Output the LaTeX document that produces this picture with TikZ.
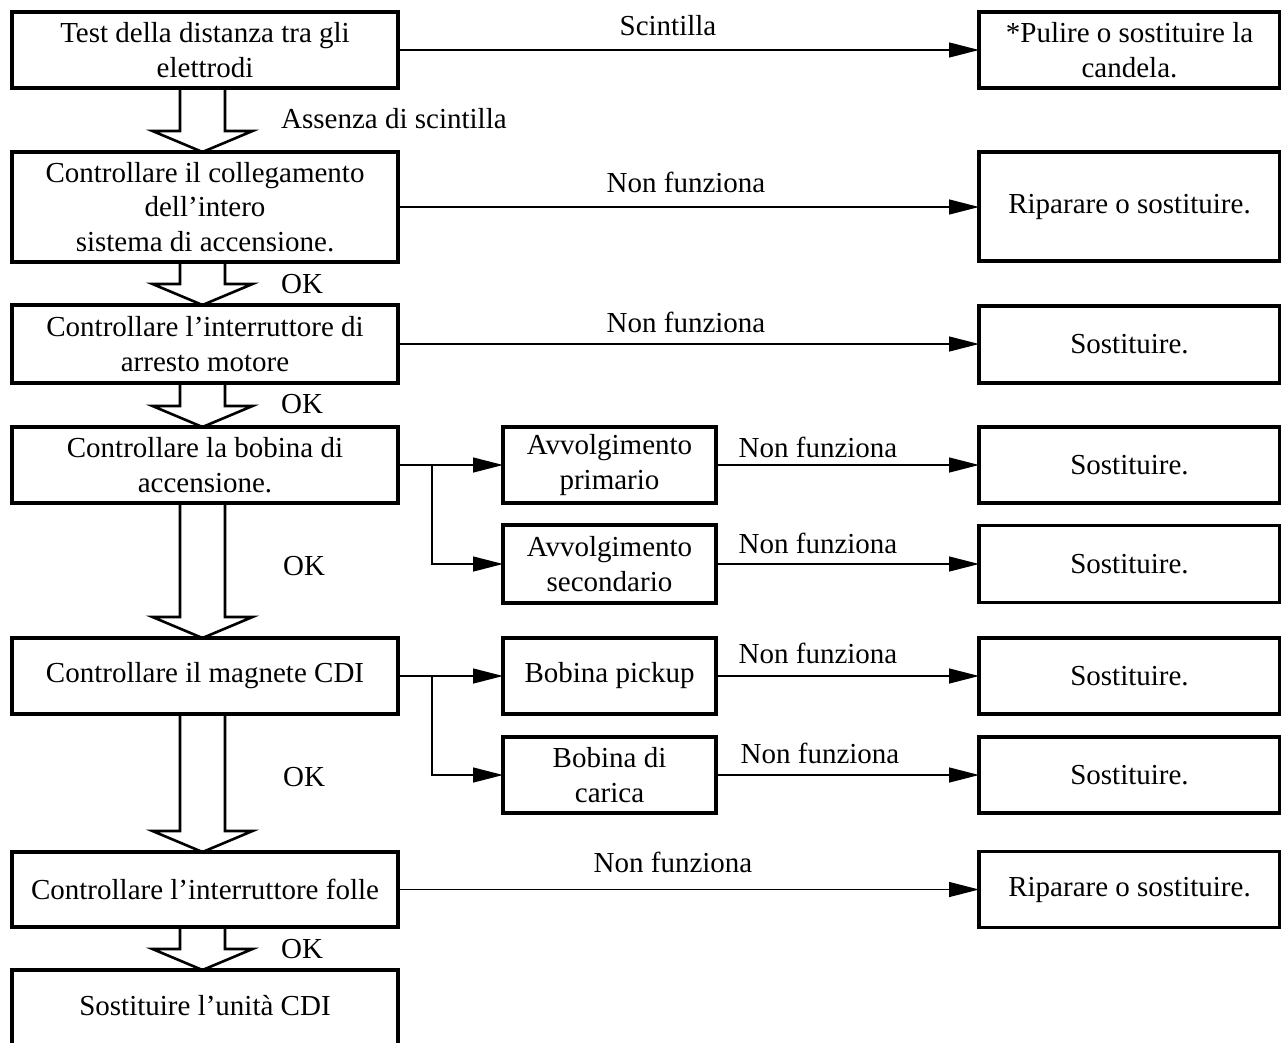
\documentclass[tikz,border=0pt]{standalone}
\usepackage{fontspec}
\setmainfont{Liberation Serif}
\usetikzlibrary{arrows.meta,calc}
\tikzset{
  txt/.style={font=\fontsize{29pt}{34.5pt}\selectfont},
  box/.style={txt, draw, line width=3.5pt, align=center, inner sep=0pt, outer sep=0pt},
  lbox/.style={box, minimum width=386pt},
  rbox/.style={box, minimum width=301pt},
  mbox/.style={box, minimum width=213pt},
  lbl/.style={txt, inner sep=0pt},
  conn/.style={line width=1.3pt, -{Triangle[length=30pt,width=15pt]}},
  blk/.style={line width=2.6pt, line join=miter},
}
\newcommand\blockarrow[2]{%
  \draw[blk] ($(#1.south)+(-25,0)$) -- ($(#2.north)+(-25,-21)$) -- ($(#2.north)+(-52.5,-21)$)
    -- ($(#2.north)+(-2.5,0)$) -- ($(#2.north)+(47.5,-21)$) -- ($(#2.north)+(20,-21)$)
    -- ($(#1.south)+(20,0)$);}
\begin{document}
\begin{tikzpicture}[x=1pt,y=-1pt]
\useasboundingbox (0,0) rectangle (1281,1042);
% left column
\node[lbox, minimum height=76pt]  (b1) at (205,50)    {Test della distanza tra gli\\elettrodi};
\node[lbox, minimum height=110pt] (b2) at (205,207)   {Controllare il collegamento\\dell’intero\\sistema di accensione.};
\node[lbox, minimum height=78pt]  (b3) at (205,344)   {Controllare l’interruttore di\\arresto motore};
\node[lbox, minimum height=76pt]  (b4) at (205,465)   {Controllare la bobina di\\accensione.};
\node[lbox, minimum height=76pt]  (b5) at (205,676)   {Controllare il magnete CDI};
\node[lbox, minimum height=75pt]  (b6) at (205,889.5) {Controllare l’interruttore folle};
\node[lbox, minimum height=80pt]  (b7) at (205,1010)  {\raisebox{10pt}{Sostituire l’unità CDI}};
% middle column
\node[mbox, minimum height=76pt] (m1) at (609.5,465) {Avvolgimento\\primario};
\node[mbox, minimum height=78pt] (m2) at (609.5,564) {Avvolgimento\\secondario};
\node[mbox, minimum height=76pt] (m3) at (609.5,676) {Bobina pickup};
\node[mbox, minimum height=76pt] (m4) at (609.5,775) {Bobina di\\carica};
% right column
\node[rbox, minimum height=76pt]  (r1) at (1129.5,50)    {*Pulire o sostituire la\\candela.};
\node[rbox, minimum height=109pt] (r2) at (1129.5,206.5) {Riparare o sostituire.};
\node[rbox, minimum height=77pt]  (r3) at (1129.5,344.5) {Sostituire.};
\node[rbox, minimum height=76pt]  (r4) at (1129.5,465)   {Sostituire.};
\node[rbox, minimum height=77pt]  (r5) at (1129.5,564)   {Sostituire.};
\node[rbox, minimum height=76pt]  (r6) at (1129.5,676)   {Sostituire.};
\node[rbox, minimum height=76pt]  (r7) at (1129.5,775)   {Sostituire.};
\node[rbox, minimum height=76pt]  (r8) at (1129.5,889.5) {Riparare o sostituire.};
% block arrows
\blockarrow{b1}{b2}
\blockarrow{b2}{b3}
\blockarrow{b3}{b4}
\blockarrow{b4}{b5}
\blockarrow{b5}{b6}
\blockarrow{b6}{b7}
% connectors
\draw[conn] (b1.east) -- (b1.east -| r1.west);
\draw[conn] (b2.east) -- (b2.east -| r2.west);
\draw[conn] (b3.east) -- (b3.east -| r3.west);
\draw[conn] (b4.east) -- (m1.west);
\coordinate (j1) at ($(b4.east)+(34,0)$);
\draw[conn] (j1) |- (m2.west);
\draw[conn] (m1) -- (r4);
\draw[conn] (m2) -- (r5);
\draw[conn] (b5.east) -- (m3.west);
\coordinate (j2) at ($(b5.east)+(34,0)$);
\draw[conn] (j2) |- (m4.west);
\draw[conn] (m3) -- (r6);
\draw[conn] (m4) -- (r7);
\draw[conn] (b6.east) -- (b6.east -| r8.west);
% labels
\node[lbl, anchor=base] (t1) at (668,35) {Scintilla};
\node[lbl, anchor=base west] (t2) at (281,128) {Assenza di scintilla};
\node[lbl, anchor=base] (t3) at (686,192) {Non funziona};
\node[lbl, anchor=base west] (t4) at (281,293) {OK};
\node[lbl, anchor=base] (t5) at (686,332) {Non funziona};
\node[lbl, anchor=base west] (t6) at (281,413) {OK};
\node[lbl, anchor=base] (t7) at (818,457) {Non funziona};
\node[lbl, anchor=base] (t8) at (818,553) {Non funziona};
\node[lbl, anchor=base west] (t9) at (283,575) {OK};
\node[lbl, anchor=base] (t10) at (818,663) {Non funziona};
\node[lbl, anchor=base] (t11) at (820,763) {Non funziona};
\node[lbl, anchor=base west] (t12) at (283,786) {OK};
\node[lbl, anchor=base] (t13) at (673,872) {Non funziona};
\node[lbl, anchor=base west] (t14) at (281,958) {OK};
\end{tikzpicture}
\end{document}
